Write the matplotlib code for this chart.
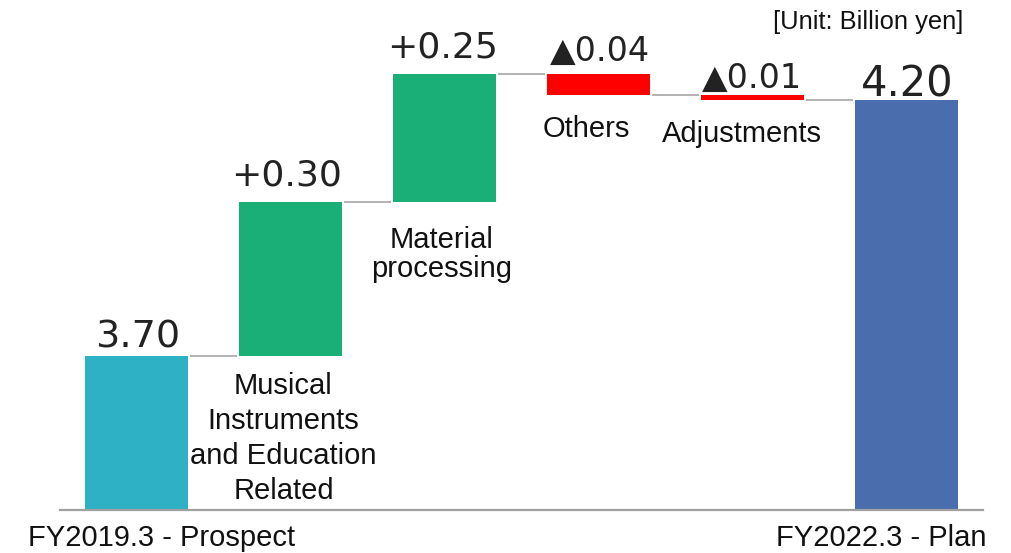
import matplotlib
matplotlib.use("Agg")
import matplotlib.pyplot as plt

# Waterfall: FY2019.3 prospect -> FY2022.3 plan, in billion yen
categories = ["FY2019.3 - Prospect",
              "Musical\nInstruments\nand Education\nRelated",
              "Material\nprocessing",
              "Others",
              "Adjustments",
              "FY2022.3 - Plan"]
start_value = 3.70
changes = [0.30, 0.25, -0.04, -0.01]
end_value = 4.20
value_labels = ["3.70", "+0.30", "+0.25", "\u25b20.04", "\u25b20.01", "4.20"]
axis_floor = 3.40

# Build bar spans (low, high) from the running total
spans = [(axis_floor, start_value)]
running = start_value
for c in changes:
    new = running + c
    spans.append((min(running, new), max(running, new)))
    running = new
spans.append((axis_floor, end_value))
levels = [start_value]
running = start_value
for c in changes:
    running += c
    levels.append(running)

colors = ["#2EB1C5", "#1BAF78", "#1BAF78", "#FF0000", "#FF0000", "#4A6EAD"]

fig = plt.figure(figsize=(10.12, 5.53), dpi=100)
ax = fig.add_axes([0, 0, 1, 1])
ax.set_xlim(-0.886, 5.685)
ax.set_ylim(3.3152, 4.3953)
ax.axis("off")

width = 0.67
xs = list(range(len(spans)))
for x, (lo, hi), col in zip(xs, spans, colors):
    ax.bar(x, hi - lo, bottom=lo, width=width, color=col, linewidth=0)

# connectors between consecutive bars
for i, lvl in enumerate(levels):
    ax.plot([i + width / 2 + 0.01, i + 1 - width / 2 - 0.01], [lvl, lvl],
            color="#A6A6A6", lw=1.2, solid_capstyle="butt")

# baseline
ax.plot([-0.497, 5.497], [axis_floor, axis_floor], color="#A0A0A0", lw=1.6)

# value labels above each bar
val_sizes = [27.5, 26, 26, 24, 24, 30]
val_offsets = [(1, 8), (-4, 17), (-2, 17), (1, 13), (-1, 7), (1, 3)]
for x, (lo, hi), lab, fs, (dx, dy) in zip(xs, spans, value_labels, val_sizes, val_offsets):
    ax.annotate(lab, xy=(x, hi), xytext=(dx, dy), textcoords="offset pixels",
                ha="center", va="baseline", fontsize=fs,
                family=["DejaVu Sans", "Noto Sans CJK JP"], color="#222222")

# category labels below the change bars
cat_font = "Liberation Sans"
cat_layout = {1: (-7, -16, 1.32), 2: (-3, -24, 1.02), 3: (-12, -20, 1.2), 4: (-11, -20, 1.2)}
for i, (dx, dy, ls) in cat_layout.items():
    ax.annotate(categories[i], xy=(i, spans[i][0]), xytext=(dx, dy),
                textcoords="offset pixels", ha="center", va="top",
                fontsize=21, family=cat_font, linespacing=ls, color="#111111")

# end-point labels along the bottom
ax.text(28 / 1012, 1 - 538 / 553, categories[0], transform=fig.transFigure,
        ha="left", va="center", fontsize=21, family=cat_font, color="#111111")
ax.text(987 / 1012, 1 - 538 / 553, categories[5], transform=fig.transFigure,
        ha="right", va="center", fontsize=21, family=cat_font, color="#111111")

ax.text(963 / 1012, 1 - 22 / 553, "[Unit: Billion yen]", transform=fig.transFigure,
        ha="right", va="center", fontsize=18.4, family=cat_font, color="#111111")

fig.savefig("out.png", dpi=100)
